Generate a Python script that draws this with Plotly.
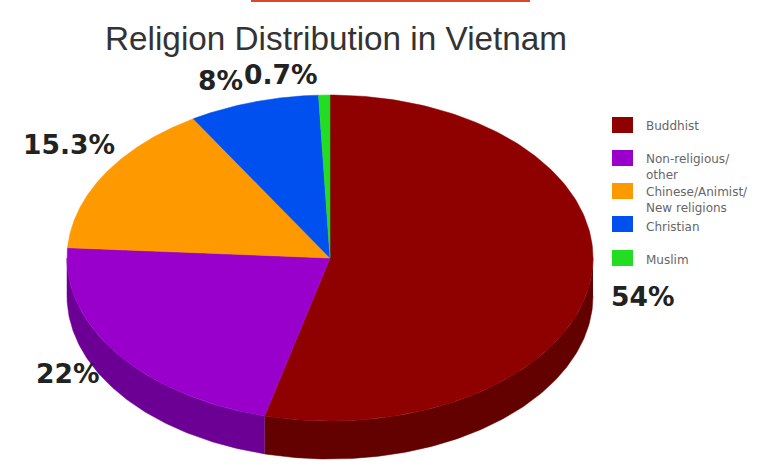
import numpy as np
import plotly.graph_objects as go

categories = ["Buddhist", "Non-religious/<br>other", "Chinese/Animist/<br>New religions", "Christian", "Muslim"]
values = [54, 22, 15.3, 8, 0.7]
value_labels = ["54%", "22%", "15.3%", "8%", "0.7%"]
top_colors = ["#8F0000", "#9900CC", "#FF9900", "#0050F0", "#22DD22"]
side_colors = ["#630000", "#6C0094", "#B36B00", "#0038A8", "#189A18"]

W, H = 768, 473
CX, CY, RX, RY, DEPTH = 330, 258, 263, 163, 38
label_pos = [(642, 296), (67, 373), (69, 144), (220, 80), (281, 74)]
legend_y = [125, 158, 191, 224, 258]
legend_text_y = [126, 166.5, 199.5, 227, 260]


def ex(t):
    return CX + RX * np.sin(t)


def ey(t):
    return CY - RY * np.cos(t)


fractions = np.array(values) / sum(values)
edges = np.concatenate([[0], np.cumsum(fractions)]) * 2 * np.pi
fig = go.Figure()

# Rim of the disc: only the front half (pi/2 .. 3pi/2) is visible.
for i, (a, b) in enumerate(zip(edges[:-1], edges[1:])):
    lo, hi = max(a, np.pi / 2), min(b, 3 * np.pi / 2)
    if hi <= lo:
        continue
    t = np.linspace(lo, hi, 120)
    xs = np.concatenate([ex(t), ex(t[::-1])])
    ys = np.concatenate([ey(t) + DEPTH, ey(t[::-1])])
    fig.add_trace(go.Scatter(x=xs, y=ys, mode="lines", fill="toself", fillcolor=side_colors[i],
                             line=dict(width=0.5, color=side_colors[i]), hoverinfo="skip", showlegend=False))

# Top face of the disc.
for i, (a, b) in enumerate(zip(edges[:-1], edges[1:])):
    t = np.linspace(a, b, 200)
    xs = np.concatenate([[CX], ex(t), [CX]])
    ys = np.concatenate([[CY], ey(t), [CY]])
    fig.add_trace(go.Scatter(x=xs, y=ys, mode="lines", fill="toself", fillcolor=top_colors[i],
                             line=dict(width=0.5, color=top_colors[i]), name=categories[i],
                             text=value_labels[i], hoverinfo="text", showlegend=False))

shapes = [dict(type="rect", x0=251, x1=530, y0=0, y1=2, line_width=0, fillcolor="#D9482B")]
annotations = [dict(x=336, y=38, text="Religion Distribution in Vietnam", showarrow=False,
                    font=dict(family="Liberation Sans", size=33.3, color="#333333"))]

for (lx, ly), lab in zip(label_pos, value_labels):
    annotations.append(dict(x=lx, y=ly, text=lab, showarrow=False,
                            font=dict(family="DejaVu Sans", size=26.5, color="#222222", weight=700)))

for name, col, y, ty in zip(categories, top_colors, legend_y, legend_text_y):
    shapes.append(dict(type="rect", x0=612, x1=633, y0=y - 8, y1=y + 8, line_width=0, fillcolor=col))
    annotations.append(dict(x=644, y=ty, text=name, showarrow=False, xanchor="left", align="left",
                            font=dict(family="DejaVu Sans", size=12, color="#666666")))

fig.update_layout(
    width=W, height=H, autosize=False,
    margin=dict(l=0, r=0, t=0, b=0),
    paper_bgcolor="white", plot_bgcolor="white",
    xaxis=dict(range=[0, W], visible=False, fixedrange=True),
    yaxis=dict(range=[H, 0], visible=False, fixedrange=True),
    shapes=shapes, annotations=annotations,
)
fig.write_html("out.html", config=dict(displayModeBar=False),
               post_script="document.body.style.margin='0';document.body.style.overflow='hidden';")
